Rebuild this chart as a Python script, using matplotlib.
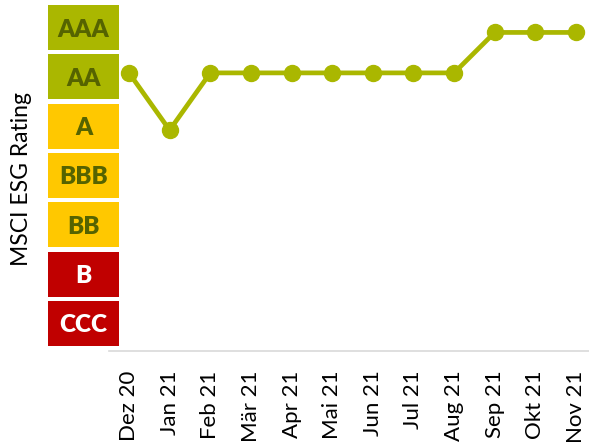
import matplotlib.pyplot as plt
from matplotlib.patches import Rectangle

plt.rcParams['font.family'] = ['Lato', 'DejaVu Sans']

# data
months = ["Dez 20", "Jan 21", "Feb 21", "Mär 21", "Apr 21", "Mai 21",
          "Jun 21", "Jul 21", "Aug 21", "Sep 21", "Okt 21", "Nov 21"]
# rating position (CCC=1 ... AAA=7)
rating_values = [6.08, 4.92, 6.08, 6.08, 6.08, 6.08, 6.08, 6.08, 6.08, 6.9, 6.9, 6.9]
rating_labels = ["CCC", "B", "BB", "BBB", "A", "AA", "AAA"]
box_colors = ["#c00000", "#c00000", "#ffc800", "#ffc800", "#ffc800", "#aab700", "#aab700"]
text_colors = ["white", "white", "#556300", "#556300", "#556300", "#556300", "#556300"]

line_color = "#aab700"
W, H = 589, 446

fig = plt.figure(figsize=(W / 100, H / 100), dpi=100)

# y limits so that boxes / points line up with the pixel grid
pitch = 49.33
ylo = 1 - (351 - 323.5) / pitch
yhi = 7 + 27.5 / pitch
ax_bottom = (H - 351) / H
ax_height = 351 / H

# main line chart
ax = fig.add_axes([109 / W, ax_bottom, 480 / W, ax_height])
x = list(range(len(months)))
ax.plot(x, rating_values, color=line_color, lw=3.4, marker='o', ms=11.5,
        solid_capstyle='round', zorder=3)
ax.set_xlim(-(129 - 109) / 40.65, 11 + (589 - 576) / 40.65)
ax.set_ylim(ylo, yhi)
ax.set_xticks(x)
ax.set_xticklabels(months, rotation=90, fontsize=16)
ax.tick_params(axis='x', length=0, pad=14)
ax.set_yticks([])
for s in ['top', 'right', 'left']:
    ax.spines[s].set_visible(False)
ax.spines['bottom'].set_color('#d9d9d9')
ax.spines['bottom'].set_linewidth(1.2)
ax.patch.set_alpha(0)

# rating boxes on the left
axb = fig.add_axes([48 / W, ax_bottom, 71 / W, ax_height])
axb.set_xlim(0, 1)
axb.set_ylim(ylo, yhi)
axb.axis('off')
for i, (lab, bc, tc) in enumerate(zip(rating_labels, box_colors, text_colors)):
    yc = i + 1
    axb.add_patch(Rectangle((0, yc - 0.455), 1, 0.91, facecolor=bc, edgecolor='none'))
    axb.text(0.5, yc, lab, ha='center', va='center_baseline', color=tc,
             fontsize=17.5, fontweight='heavy')

fig.text(22 / W, 1 - 179 / H, "MSCI ESG Rating", rotation=90, ha='center',
         va='center', fontsize=16.5)

fig.savefig("out.png", dpi=100)
